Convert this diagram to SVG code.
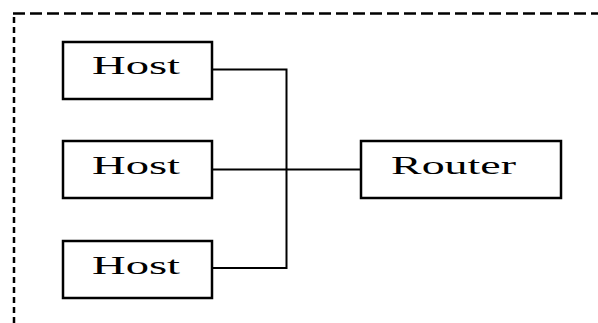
<svg xmlns="http://www.w3.org/2000/svg" width="598" height="323" viewBox="0 0 598 323">
  <style>
    .box { fill: #fff; stroke: #000; stroke-width: 2.5; }
    .lbl { font-family: "Liberation Serif", "Times New Roman", serif; font-size: 26px; fill: #000; }
    .wire { fill: none; stroke: #000; stroke-width: 2; }
    .edge { fill: none; stroke: #000; stroke-width: 2.5; }
  </style>
  <rect width="598" height="323" fill="#fff"/>

  <!-- dashed network boundary -->
  <g id="boundary">
    <path class="edge" d="M14 323 V14" stroke-dasharray="6 4"/>
    <path class="edge" d="M13 13.5 H598" stroke-dasharray="12 5" stroke-width="2"/>
  </g>

  <!-- connectors -->
  <g id="connectors">
    <path class="wire" d="M212 69.5 H286.5 V268 H212"/>
    <path class="wire" d="M212 169.5 H361"/>
  </g>

  <g id="host1">
    <rect class="box" x="63" y="42" width="149" height="57"/>
    <text class="lbl" x="92" y="74" textLength="88" lengthAdjust="spacingAndGlyphs">Host</text>
  </g>
  <g id="host2">
    <rect class="box" x="63" y="141" width="149" height="57"/>
    <text class="lbl" x="92" y="174" textLength="88" lengthAdjust="spacingAndGlyphs">Host</text>
  </g>
  <g id="host3">
    <rect class="box" x="63" y="241" width="149" height="57"/>
    <text class="lbl" x="92" y="274" textLength="88" lengthAdjust="spacingAndGlyphs">Host</text>
  </g>
  <g id="router">
    <rect class="box" x="361" y="141" width="200" height="57"/>
    <text class="lbl" x="391" y="174" textLength="125" lengthAdjust="spacingAndGlyphs">Router</text>
  </g>
</svg>
